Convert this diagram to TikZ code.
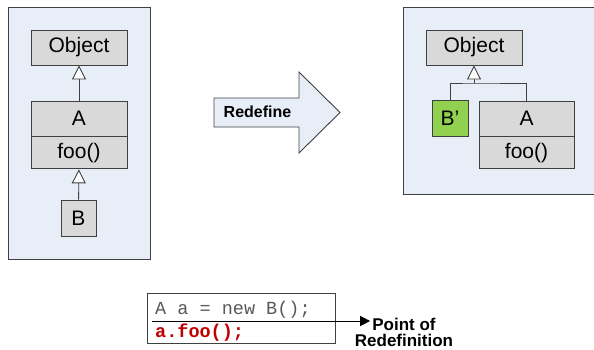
\documentclass[tikz,border=0pt]{standalone}
\usepackage{fontspec}
\setmainfont{Liberation Sans}
\setmonofont{Liberation Mono}
\usepackage{tikz}
\usetikzlibrary{arrows.meta,positioning,calc}
\definecolor{panelbg}{HTML}{E8EEF8}
\definecolor{boxfill}{HTML}{D9D9D9}
\definecolor{edge}{HTML}{404040}
\definecolor{fresh}{HTML}{92D050}
\definecolor{codegray}{HTML}{595959}
\definecolor{codered}{HTML}{C00000}
\tikzset{
  panel/.style={draw=edge,fill=panelbg,line width=0.9pt,anchor=north west,inner sep=0pt},
  cls/.style={draw=edge,fill=boxfill,line width=0.9pt,inner sep=0pt,
    minimum height=35pt,font=\fontsize{21}{25}\selectfont},
  member/.style={cls,minimum height=32pt},
  inherit/.style={-{Triangle[open,length=14pt,width=14pt,fill=white]},draw=edge,line width=0.9pt},
  pointer/.style={-{Triangle[length=10pt,width=10pt]},draw=black,line width=0.9pt},
  codeline/.style={anchor=base west,inner sep=0pt,font=\ttfamily\fontsize{18.5}{22}\selectfont},
  notelabel/.style={font=\bfseries\fontsize{17}{20}\selectfont,inner sep=0pt,anchor=base}
}
\begin{document}
\begin{tikzpicture}[x=1pt,y=-1pt]
  \useasboundingbox (0,0) rectangle (594,349);
  % before
  \node[panel,minimum width=142pt,minimum height=252pt] (before) at (8,7) {};
  \node[cls,minimum width=96pt] (objL) at (79,47.5) {Object};
  \node[cls,minimum width=96pt] (aL) at (79,118.5) {A};
  \node[member,minimum width=96pt,below=0pt of aL] (fooL) {foo()};
  \node[cls,minimum width=35pt,minimum height=36pt] (bL) at (78.5,218) {B};
  \draw[inherit] (aL) -- (objL);
  \draw[inherit] (bL) -- (fooL);
  % redefine arrow
  \draw[draw=edge,fill=panelbg,line width=0.9pt]
    (214,98) -- (299,98) -- (299,72) -- (340,112.5) -- (299,153) -- (299,127) -- (214,127) -- cycle;
  \node[font=\bfseries\fontsize{16}{19}\selectfont,inner sep=0pt] (redef) at (257.5,112) {Redefine};
  % after
  \node[panel,minimum width=195pt,minimum height=187pt] (after) at (403,7) {};
  \node[cls,minimum width=96pt] (objR) at (474,47.5) {Object};
  \node[cls,fill=fresh,minimum width=36pt,minimum height=36pt] (bR) at (450,118) {B’};
  \node[cls,minimum width=95pt] (aR) at (526.5,118.5) {A};
  \node[member,minimum width=95pt,below=0pt of aR] (fooR) {foo()};
  \coordinate (joint) at (objR.south |- 0,83);
  \draw[draw=edge,line width=0.9pt] (bR.north) |- (joint) -| (aR.north);
  \draw[inherit] (joint) -- (objR.south);
  % code
  \node[draw=edge,line width=0.9pt,anchor=north west,inner sep=0pt,
    minimum width=188pt,minimum height=50pt] (codebox) at (147,293) {};
  \node[codeline,text=codegray] (decl) at (155,314) {A a = new B();};
  \node[codeline,text=codered,font=\ttfamily\bfseries\fontsize{18.5}{22}\selectfont] (call) at (155,337.5) {a.foo();};
  \coordinate (mark) at (152,321);
  \node[notelabel] (point) at (404,330) {Point of};
  \node[notelabel] (redefinition) at (404,346) {Redefinition};
  \draw[pointer,shorten >=2pt] (mark) -- (mark -| point.west);
\end{tikzpicture}
\end{document}
